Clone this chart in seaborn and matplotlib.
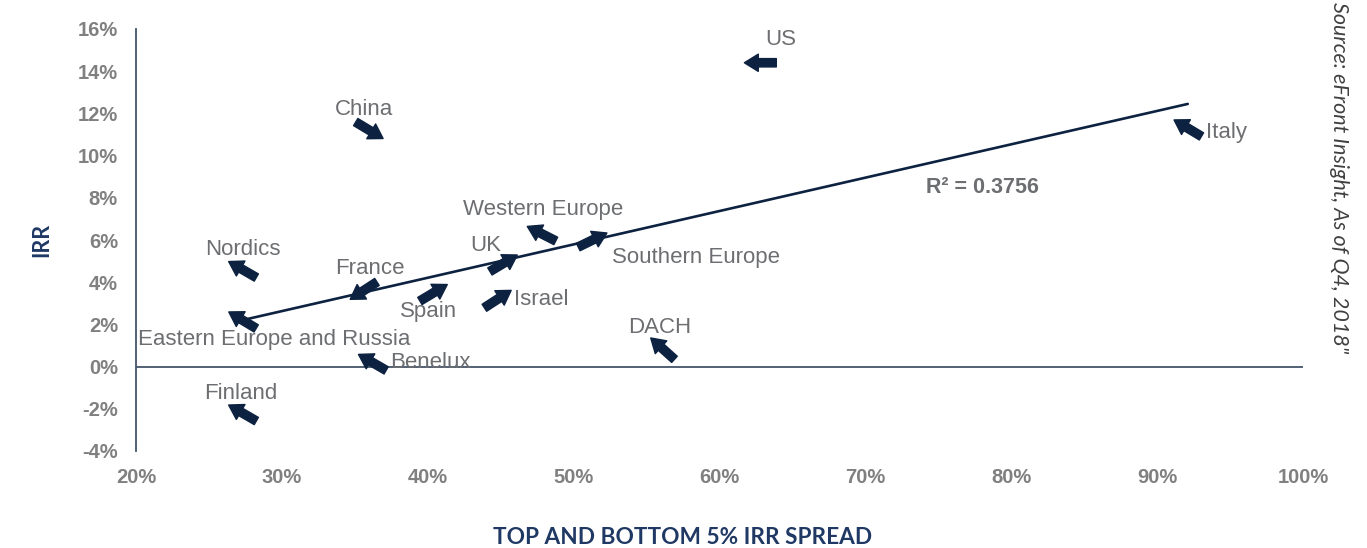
import numpy as np
import pandas as pd
import matplotlib
matplotlib.use("Agg")
import matplotlib.pyplot as plt
from matplotlib.transforms import offset_copy
import seaborn as sns

# ---- data ----
countries = ["US", "China", "Italy", "Western Europe", "Southern Europe", "UK",
             "Nordics", "France", "Spain", "Israel", "Eastern Europe and Russia",
             "Benelux", "DACH", "Finland"]
spread = [62.8, 36.0, 92.1, 47.8, 51.3, 45.2, 27.3, 35.6, 40.4, 44.8, 27.3, 36.2, 56.1, 27.3]
irr = [14.4, 11.2, 11.3, 6.3, 6.0, 4.9, 4.6, 3.6, 3.5, 3.2, 2.2, 0.2, 0.85, -2.2]
x_ticks = [20, 30, 40, 50, 60, 70, 80, 90, 100]
y_ticks = [-4, -2, 0, 2, 4, 6, 8, 10, 12, 14, 16]
r2_text = "R² = 0.3756"

# ---- style ----
arrow_angles = [180, -31, 149, 153, 26, 31, 150, 213, 31, 33, 149, 150, 138, 150]
label_offsets_px = [(20, -23), (-5, -21), (39, 4), (2, -24), (103, 17), (-18, -18),
                    (0, -20), (6, -22), (-5, 19), (43, 0), (32, 19), (58, 0),
                    (-3, -21), (-2, -20)]

NAVY = "#0d2240"
GRAY = "#6d6e71"
TICKGRAY = "#808080"
SPINE = "#44546a"

sns.set_theme(style="white")
plt.rcParams["font.family"] = ["Liberation Sans", "DejaVu Sans"]

df = pd.DataFrame({"country": countries, "spread": spread, "irr": irr})

fig = plt.figure(figsize=(13.67, 5.48), dpi=100)
ax = fig.add_axes([136 / 1367, 1 - 451 / 548, (1303 - 136) / 1367, (451 - 29) / 548])

sns.regplot(data=df, x="spread", y="irr", scatter=False, ci=None, ax=ax,
            line_kws=dict(color=NAVY, lw=1.9, zorder=3))

ax.set_xlim(20, 100)
ax.set_ylim(-4, 16)
ax.set_xlabel("")
ax.set_ylabel("")
ax.set_xticks(x_ticks)
ax.set_yticks(y_ticks)
ax.set_xticklabels([f"{t}%" for t in x_ticks])
ax.set_yticklabels([f"{t}%" for t in y_ticks])
ax.tick_params(axis="both", length=0, labelsize=14.5, labelcolor=TICKGRAY)
ax.tick_params(axis="x", pad=12)
ax.tick_params(axis="y", pad=13)
for lab in ax.get_xticklabels() + ax.get_yticklabels():
    lab.set_fontweight("bold")

for s in ["top", "right", "bottom"]:
    ax.spines[s].set_visible(False)
ax.spines["left"].set_color(SPINE)
ax.spines["left"].set_linewidth(1.3)
ax.axhline(0, color=SPINE, lw=1.3, zorder=1)
ax.grid(False)

# arrows as markers (centered on data point)
L = 23.0  # arrow length in points
for x, y, ang in zip(spread, irr, arrow_angles):
    hx = L / 2 * np.cos(np.radians(ang))
    hy = L / 2 * np.sin(np.radians(ang))
    tip_tr = offset_copy(ax.transData, fig=fig, x=hx, y=hy, units="points")
    ax.annotate("", xy=(x, y), xycoords=tip_tr,
                xytext=(-2 * hx, -2 * hy), textcoords="offset points",
                arrowprops=dict(arrowstyle="simple,head_length=0.5,head_width=0.62,tail_width=0.3",
                                color=NAVY, shrinkA=0, shrinkB=0, mutation_scale=20),
                zorder=4)

# labels
for name, x, y, (dx, dy) in zip(countries, spread, irr, label_offsets_px):
    ax.annotate(name, xy=(x, y), xytext=(dx * 0.72, -dy * 0.72), textcoords="offset points",
                ha="center", va="center", fontsize=16, color=GRAY, zorder=5)

ax.text(982 / 1367, 1 - 187 / 548, r2_text, transform=fig.transFigure, ha="center", va="center",
        fontsize=15.5, fontweight="bold", color=GRAY)

fig.text(683 / 1367, 1 - 537 / 548, "TOP AND BOTTOM 5% IRR SPREAD", ha="center", va="center",
         fontsize=16.3, fontweight="bold", color="#1f3864", family=["Lato", "DejaVu Sans"])
fig.text(42 / 1367, 1 - 240 / 548, "IRR", ha="center", va="center", rotation=90,
         fontsize=15.5, fontweight="bold", color="#1f3864", family=["Lato", "DejaVu Sans"])
fig.text(1339 / 1367, 1 - 2 / 548, "Source: eFront Insight, As of Q4, 2018\"", ha="center", va="top",
         rotation=-90, fontsize=15.5, style="italic", color="#404040", family=["Lato", "DejaVu Sans"])

fig.savefig("out.png", dpi=100)
